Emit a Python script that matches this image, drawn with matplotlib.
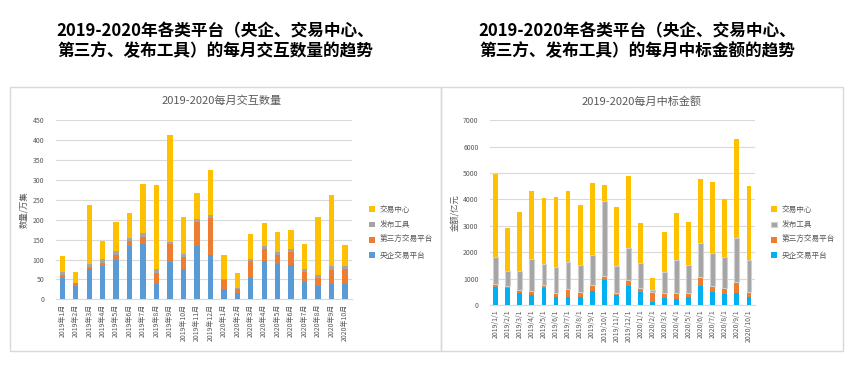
import matplotlib.pyplot as plt
from matplotlib.patches import Rectangle
import numpy as np

plt.rcParams['font.family'] = ['Noto Sans CJK SC', 'DejaVu Sans']

# left chart: monthly interaction count (万集)
months_cn = ["2019年1月", "2019年2月", "2019年3月", "2019年4月", "2019年5月", "2019年6月",
             "2019年7月", "2019年8月", "2019年9月", "2019年10月", "2019年11月", "2019年12月",
             "2020年1月", "2020年2月", "2020年3月", "2020年4月", "2020年5月", "2020年6月",
             "2020年7月", "2020年8月", "2020年9月", "2020年10月"]
cnt_central = [53, 33, 75, 84, 100, 135, 140, 39, 95, 75, 135, 111, 25, 16, 54, 96, 90, 85, 44, 34, 39, 39]
cnt_third = [8, 7, 6, 7, 12, 11, 17, 26, 43, 32, 60, 94, 24, 10, 42, 30, 21, 34, 25, 19, 35, 37]
cnt_tool = [7, 2, 8, 10, 10, 9, 10, 11, 5, 8, 7, 8, 1, 2, 5, 8, 8, 8, 7, 7, 10, 8]
cnt_center = [41, 26, 148, 46, 73, 62, 124, 212, 269, 92, 64, 112, 62, 38, 63, 58, 50, 47, 63, 147, 178, 53]

# right chart: monthly winning bid amount (亿元)
months_date = ["2019/1/1", "2019/2/1", "2019/3/1", "2019/4/1", "2019/5/1", "2019/6/1",
               "2019/7/1", "2019/8/1", "2019/9/1", "2019/10/1", "2019/11/1", "2019/12/1",
               "2020/1/1", "2020/2/1", "2020/3/1", "2020/4/1", "2020/5/1", "2020/6/1",
               "2020/7/1", "2020/8/1", "2020/9/1", "2020/10/1"]
amt_central = [670, 650, 450, 375, 650, 300, 300, 300, 525, 950, 375, 725, 500, 125, 275, 225, 300, 725, 500, 425, 450, 300]
amt_third = [135, 75, 125, 162, 100, 162, 300, 200, 225, 162, 87, 225, 150, 350, 187, 237, 162, 325, 225, 225, 412, 200]
amt_tool = [1015, 550, 700, 1188, 800, 975, 1025, 1012, 1137, 2820, 1013, 1212, 925, 90, 788, 1238, 1050, 1301, 1247, 1170, 1692, 1207]
amt_center = [3161, 1658, 2265, 2599, 2508, 2659, 2699, 2281, 2740, 619, 2242, 2731, 1535, 447, 1518, 1789, 1636, 2428, 2693, 2200, 3742, 2806]

names = ["央企交易平台", "第三方交易平台", "发布工具", "交易中心"]

W, H = 853, 391
fig = plt.figure(figsize=(W / 100, H / 100), dpi=100)

def fx(px):
    return px / W

def fy(py):
    return 1 - py / H

# panel borders
for x0, x1 in [(10, 441), (441, 843)]:
    fig.patches.append(Rectangle((fx(x0), fy(351)), fx(x1) - fx(x0), fy(87) - fy(351),
                                 transform=fig.transFigure, fill=False,
                                 edgecolor="#D9D9D9", linewidth=1.0))

# big titles
fig.text(fx(215), fy(41), "2019-2020年各类平台（央企、交易中心、\n第三方、发布工具）的每月交互数量的趋势",
         ha="center", va="center", fontsize=12, fontweight="bold", linespacing=1.15)
fig.text(fx(637), fy(41), "2019-2020年各类平台（央企、交易中心、\n第三方、发布工具）的每月中标金额的趋势",
         ha="center", va="center", fontsize=12, fontweight="bold", linespacing=1.15)

# chart titles
fig.text(fx(222), fy(101), "2019-2020每月交互数量", ha="center", va="center", fontsize=8, color="#595959")
fig.text(fx(642), fy(101), "2019-2020每月中标金额", ha="center", va="center", fontsize=8, color="#595959")


def stacked(ax, labels, series, colors, ymax, step, ylabel, gray_edge):
    x = np.arange(len(labels))
    bottom = np.zeros(len(labels))
    bars = []
    for i, (vals, col) in enumerate(zip(series, colors)):
        if gray_edge and i == 2:
            b = ax.bar(x, vals, 0.4, bottom=bottom, color=col, edgecolor="#D0D0D0", linewidth=0.8, zorder=3)
        else:
            b = ax.bar(x, vals, 0.4, bottom=bottom, color=col, zorder=3)
        bars.append(b)
        bottom = bottom + np.array(vals)
    ax.set_xlim(-0.5, len(labels) - 0.5)
    ax.set_ylim(0, ymax)
    ax.set_yticks(np.arange(0, ymax + 1, step))
    ax.yaxis.grid(True, color="#D9D9D9", linewidth=0.8, zorder=0)
    ax.set_xticks(x)
    ax.set_xticklabels(labels, rotation=90, fontsize=5, color="#595959")
    ax.tick_params(axis="y", labelsize=5, labelcolor="#595959", length=0, pad=8)
    ax.tick_params(axis="x", length=0, pad=3)
    for s in ["top", "right", "left"]:
        ax.spines[s].set_visible(False)
    ax.spines["bottom"].set_color("#D9D9D9")
    ax.set_ylabel(ylabel, fontsize=6, color="#595959", labelpad=3)
    return bars


ax1 = fig.add_axes([fx(55.6), fy(299.3), fx(351.7) - fx(55.6), fy(120.3) - fy(299.3)])
c1 = ["#5B9BD5", "#ED7D31", "#A5A5A5", "#FFC000"]
b1 = stacked(ax1, months_cn, [cnt_central, cnt_third, cnt_tool, cnt_center], c1, 450, 50, "数量/万集", False)

ax2 = fig.add_axes([fx(489.7), fy(305), fx(755) - fx(489.7), fy(120.3) - fy(305)])
c2 = ["#00B0F0", "#ED7D31", "#A5A5A5", "#FFC000"]
b2 = stacked(ax2, months_date, [amt_central, amt_third, amt_tool, amt_center], c2, 7000, 1000, "金额/亿元", True)

for bars, xpos in [(b1, 362), (b2, 764)]:
    fig.legend(bars[::-1], names[::-1], loc="upper left",
               bbox_to_anchor=(fx(xpos), fy(199)), frameon=False, fontsize=5.5,
               handlelength=0.8, handleheight=0.8, handletextpad=0.6, labelspacing=0.95,
               labelcolor="#595959")

fig.savefig("out.png", dpi=100)
